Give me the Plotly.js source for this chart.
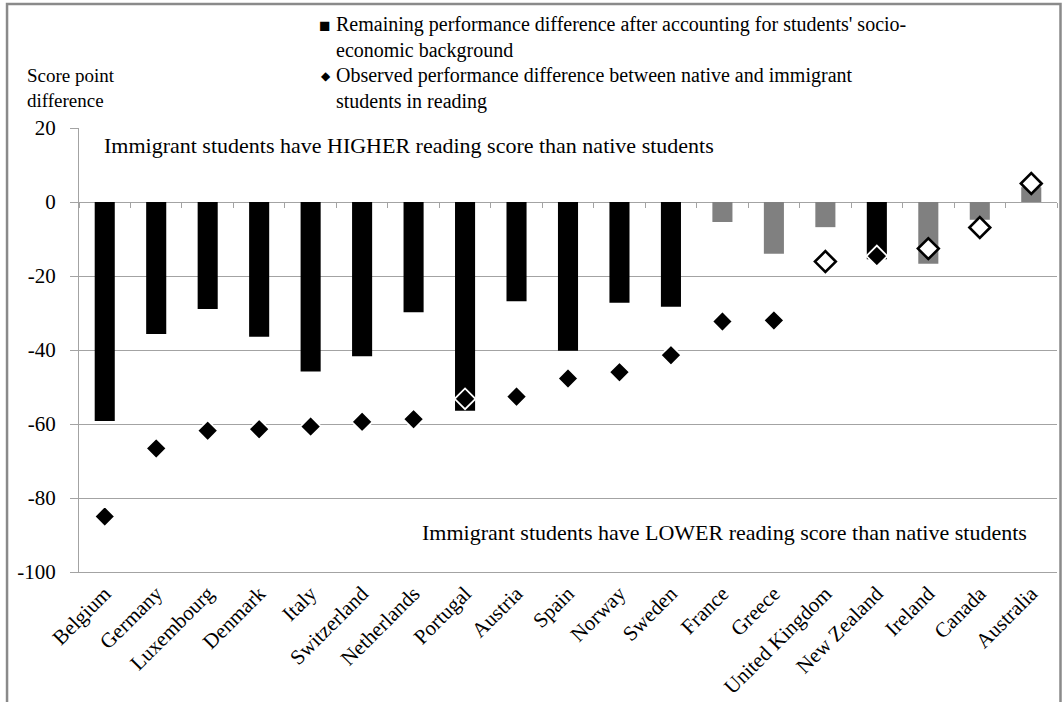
<!DOCTYPE html>
<html>
<head>
<meta charset="utf-8">
<script src="https://cdn.plot.ly/plotly-3.0.1.min.js"></script>
<style>html,body{margin:0;padding:0;background:#fff;}#chart{width:1064px;height:702px;}</style>
</head>
<body>
<div id="chart"></div>
<script>
// ---- data ----
var countries = ["Belgium","Germany","Luxembourg","Denmark","Italy","Switzerland","Netherlands","Portugal","Austria","Spain","Norway","Sweden","France","Greece","United Kingdom","New Zealand","Ireland","Canada","Australia"];
// Remaining performance difference after accounting for socio-economic background
var remaining = [-59.2,-35.7,-28.9,-36.4,-45.8,-41.7,-29.8,-56.4,-26.8,-40.2,-27.2,-28.3,-5.4,-14.0,-6.8,-15.5,-16.7,-4.8,4.0];
// Observed performance difference between native and immigrant students
var observed = [-85.0,-66.6,-61.8,-61.4,-60.7,-59.4,-58.7,-53.2,-52.6,-47.7,-46.0,-41.4,-32.3,-32.0,-16.1,-14.6,-12.6,-6.9,5.0];
// statistically significant differences (filled marks)
var remainingSignificant = [true,true,true,true,true,true,true,true,true,true,true,true,false,false,false,true,false,false,false];
var observedSignificant = [true,true,true,true,true,true,true,true,true,true,true,true,true,true,false,true,false,false,false];
var yTicks = [-100,-80,-60,-40,-20,0,20];
var legendRemaining = ["Remaining performance difference after accounting for students' socio-","economic background"];
var legendObserved = ["Observed performance difference between native and immigrant","students in reading"];
var yAxisLabel = ["Score point","difference"];
var noteHigher = "Immigrant students have HIGHER reading score than native students";
var noteLower = "Immigrant students have LOWER reading score than native students";

// ---- styling ----
var FONT = "Liberation Serif, Times New Roman, serif";
var GRID = "#a3a3a3";
var W = 1064, H = 702, L = 79, R = 6.5, T = 128, B = 130;
var pw = W - L - R, ph = H - T - B;
function px(x){ return (x - L) / pw; }
function py(y){ return (H - B - y) / ph; }

var barColors = remainingSignificant.map(function(s){ return s ? "#000000" : "#808080"; });
var dotFill = observedSignificant.map(function(s){ return s ? "#000000" : "#ffffff"; });
var dotLine = observedSignificant.map(function(s){ return s ? "#ffffff" : "#000000"; });
var dotLineW = observedSignificant.map(function(s){ return s ? 1.8 : 2.6; });

var traces = [
  {type:"bar", x:countries, y:remaining, width:0.39,
   marker:{color:barColors, line:{width:0}}, showlegend:false, hoverinfo:"skip"},
  {type:"scatter", mode:"markers", x:countries, y:observed,
   marker:{symbol:"diamond", size:16, color:dotFill, line:{color:dotLine, width:dotLineW}},
   showlegend:false, hoverinfo:"skip"},
  {type:"scatter", mode:"none", x:countries, y:remaining, xaxis:"x2", yaxis:"y",
   showlegend:false, hoverinfo:"skip"}
];

var ann = [];
function txt(s, x, y, size, anchor, yref){
  return {text:s, x:x, y:y, xref:"paper", yref:yref||"paper", xanchor:anchor||"left", yanchor:"middle",
    align:"left", showarrow:false, font:{family:FONT, size:size, color:"#000"}};
}
ann.push(txt(legendRemaining.join("<br>"), px(334), py(37.5), 20));
ann.push(txt(legendObserved.join("<br>"), px(334), py(88), 20));
ann.push(txt("\u25A0", px(325), py(25), 19, "center"));
ann.push(txt("\u25C6", px(326), py(76), 12, "center"));
ann.push(txt(yAxisLabel.join("<br>"), px(25), py(88), 19));
ann.push(txt(noteHigher, px(102), 15.4, 22, "left", "y"));
ann.push(txt(noteLower, px(1029), -89.2, 22, "right", "y"));

var layout = {
  width:W, height:H,
  margin:{l:L, r:R, t:T, b:B, pad:0},
  paper_bgcolor:"#ffffff", plot_bgcolor:"#ffffff",
  font:{family:FONT, color:"#000"},
  showlegend:false, hovermode:false, bargap:0.6,
  xaxis:{type:"category", range:[-0.5,18.5], showgrid:false, zeroline:false,
    showline:true, linecolor:GRID, linewidth:1, ticks:"", tickangle:-45,
    tickfont:{family:FONT, size:21, color:"#000"}, ticklabelstandoff:0, fixedrange:true},
  xaxis2:{type:"category", overlaying:"x", anchor:"free", position:100/120, side:"bottom",
    range:[-0.5,18.5], showgrid:false, zeroline:false, showline:true, linecolor:GRID, linewidth:1,
    ticks:"outside", ticklen:5, tickcolor:GRID, tickson:"boundaries", showticklabels:false,
    layer:"below traces", fixedrange:true},
  yaxis:{range:[-100,20], tickvals:yTicks, ticktext:yTicks.map(String), showgrid:true, gridcolor:GRID, gridwidth:1,
    zeroline:false, showline:true, linecolor:GRID, linewidth:1, ticks:"outside", ticklen:8, tickcolor:GRID,
    tickfont:{family:FONT, size:21, color:"#000"}, ticklabelstandoff:10, fixedrange:true},
  annotations:ann,
  shapes:[{type:"rect", xref:"paper", yref:"paper", x0:px(7), x1:px(1061), y0:py(730), y1:py(4),
    line:{color:"#8a8a8a", width:2.5}, fillcolor:"rgba(0,0,0,0)", layer:"below"}]
};

Plotly.newPlot("chart", traces, layout, {displayModeBar:false, staticPlot:true});
</script>
</body>
</html>
